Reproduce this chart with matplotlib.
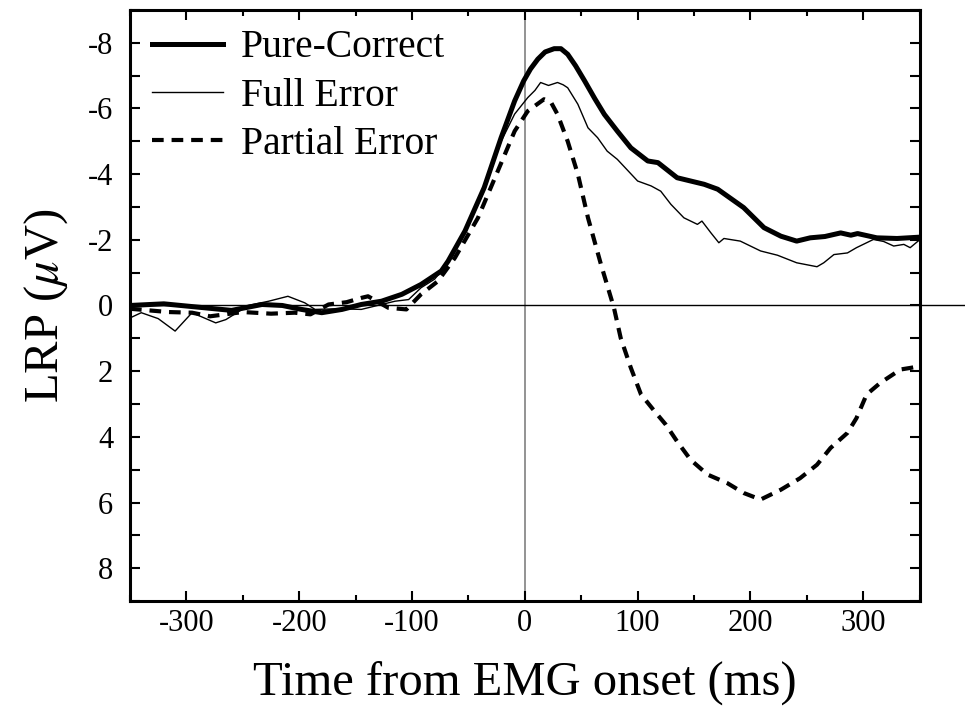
import numpy as np
import matplotlib.pyplot as plt
from matplotlib.ticker import MultipleLocator

plt.rcParams['font.family'] = ['Liberation Serif', 'DejaVu Serif']
plt.rcParams['mathtext.fontset'] = 'stix'
plt.rcParams['axes.unicode_minus'] = False

# Pure-Correct (thick solid)
pc_t = [-350, -320, -290, -260, -233, -215, -198, -180, -162, -145, -127, -109, -92, -74,
        -68, -53, -36, -21, -9, -1, 5, 11.5, 18, 26, 32, 38, 45, 53, 62, 70.5, 82, 94, 109, 118,
        135, 159, 171, 194, 212, 227, 241, 253, 266, 280, 289, 295, 312, 330, 350]
pc_v = [0.0, -0.05, 0.05, 0.15, -0.03, 0.0, 0.12, 0.22, 0.12, -0.03, -0.13, -0.34, -0.64, -1.05,
        -1.35, -2.27, -3.59, -5.11, -6.23, -6.84, -7.2, -7.5, -7.72, -7.82, -7.82, -7.65, -7.3, -6.84, -6.3, -5.82, -5.31, -4.8, -4.4, -4.35,
        -3.89, -3.69, -3.54, -2.98, -2.37, -2.11, -1.96, -2.06, -2.1, -2.21, -2.14, -2.19, -2.06, -2.04, -2.08]

# Full Error (thin solid)
fe_t = [-350, -340, -325, -310, -295, -274, -265, -245, -227, -210, -195, -186, -165, -145, -115,
        -103, -92, -80, -68, -53, -36, -21, -9, 2.6, 9, 14, 21, 29, 34, 38, 47, 56, 64.5, 73, 82,
        100, 112, 120.5, 129.5, 141, 153, 157, 165, 172, 176.5, 191, 209, 224, 241, 259, 265,
        274, 286, 294, 309, 318, 327, 336, 341.6, 350]
fe_v = [0.38, 0.22, 0.4, 0.78, 0.22, 0.53, 0.43, 0.0, -0.13, -0.28, -0.08, 0.12, 0.1, 0.12, -0.13,
        -0.18, -0.54, -0.8, -1.3, -2.2, -3.5, -5.0, -5.83, -6.33, -6.55, -6.79, -6.7, -6.79, -6.72, -6.63, -6.13, -5.41, -5.11, -4.7, -4.45,
        -3.79, -3.64, -3.48, -3.08, -2.67, -2.47, -2.57, -2.21, -1.91, -2.04, -1.96, -1.66, -1.53, -1.3, -1.18, -1.3,
        -1.55, -1.6, -1.76, -2.01, -1.95, -1.81, -1.86, -1.76, -2.0]

# Partial Error (dashed)
pe_t = [-350, -316, -295, -279, -250, -225, -204, -190, -174, -158, -145, -139, -121, -105, -92,
        -77, -62, -41.5, -24, -9, 2.6, 17, 23, 29, 38, 47, 56, 67.5, 79, 85, 94, 103, 115, 125,
        135, 147, 162, 179.5, 194, 209, 227, 244, 259, 271, 286, 294, 303, 315, 333, 342, 350]
pe_v = [0.1, 0.2, 0.22, 0.33, 0.2, 0.25, 0.22, 0.27, -0.03, -0.1, -0.23, -0.28, 0.07, 0.12, -0.34,
        -0.74, -1.45, -2.67, -4.09, -5.31, -5.92, -6.28, -6.2, -5.82, -5.0, -4.0, -2.67, -1.25, 0.07, 0.99, 1.9, 2.71, 3.22, 3.63,
        4.14, 4.7, 5.15, 5.41, 5.71, 5.91, 5.61, 5.26, 4.85, 4.34, 3.88, 3.43, 2.71, 2.36, 1.95, 1.9, 1.85]

fig = plt.figure(figsize=(9.65, 7.09), dpi=100)
ax = fig.add_axes([0.1347, 0.1523, 0.8183, 0.8337])

# reference lines
ax.axvline(0, color='#8a8a8a', lw=1.3, zorder=1)
ax.plot([-350, 390], [0, 0], color='k', lw=1.0, clip_on=False, zorder=1)

ax.plot(pc_t, pc_v, color='k', lw=3.6, label='Pure-Correct')
ax.plot(fe_t, fe_v, color='k', lw=1.0, label='Full Error')
ax.plot(pe_t, pe_v, color='k', lw=3.0, ls=(0, (2.8, 1.9)), label='Partial Error')

ax.set_xlim(-350, 350)
ax.set_ylim(9, -9)
ax.xaxis.set_major_locator(MultipleLocator(100))
ax.xaxis.set_minor_locator(MultipleLocator(50))
ax.yaxis.set_major_locator(MultipleLocator(2))
ax.yaxis.set_minor_locator(MultipleLocator(1))
ax.tick_params(which='both', direction='in', top=True, right=True, width=1.5)
ax.tick_params(which='major', length=7, labelsize=22)
ax.tick_params(axis='x', which='major', pad=6)
ax.tick_params(axis='y', which='major', pad=12)
ax.tick_params(which='minor', length=4)
ax.tick_params(axis='y', which='minor', length=7)
for s in ax.spines.values():
    s.set_linewidth(2.2)

ax.set_xlabel('Time from EMG onset (ms)', fontsize=35, labelpad=16)
ax.set_ylabel(r'LRP ($\mu$V)', fontsize=35, labelpad=13)

ax.legend(loc='upper left', bbox_to_anchor=(0.028, 0.967), frameon=False, fontsize=28.5,
          handlelength=1.8, handletextpad=0.45, labelspacing=0.28, borderpad=0, borderaxespad=0)

fig.savefig('out.png', dpi=100)
